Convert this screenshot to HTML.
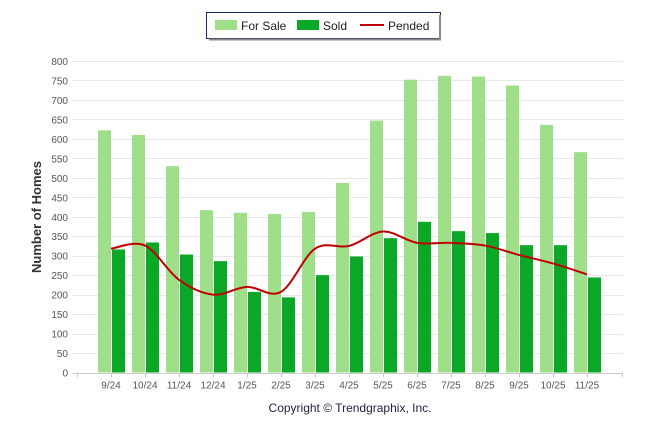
<!DOCTYPE html>
<html><head><meta charset="utf-8"><style>
body{margin:0;background:#fff;font-family:"Liberation Sans",sans-serif}
svg text{font-family:"Liberation Sans",sans-serif}
</style></head><body>
<svg id="chart" width="646" height="434">
<g>
<rect x="206.5" y="12.5" width="234" height="26" fill="#fff" stroke="#1a2a5a" stroke-width="1"/>
<line x1="440" y1="15" x2="440" y2="40" stroke="#888" stroke-width="2"/>
<line x1="209" y1="39.5" x2="441" y2="39.5" stroke="#888" stroke-width="2"/>
<g><rect x="215" y="20" width="22" height="10" fill="#a0df89"/><text x="241" y="30" font-size="12" fill="#222">For Sale</text></g>
<g><rect x="297" y="20" width="22" height="10" fill="#0aa826"/><text x="323" y="30" font-size="12" fill="#222">Sold</text></g>
<g><line x1="360" y1="25" x2="384" y2="25" stroke="#c00000" stroke-width="2"/><text x="388" y="30" font-size="12" fill="#222">Pended</text></g>
</g>
<g id="grid"></g><g id="bars"></g><g id="line"></g><g id="axes"></g>
<text x="41" y="217" font-size="13" font-weight="bold" fill="#333" text-anchor="middle" transform="rotate(-90 41 217)">Number of Homes</text>
<text x="350" y="412" font-size="12" fill="#224" text-anchor="middle">Copyright © Trendgraphix, Inc.</text>
</svg>
<script>
const categories=["9/24","10/24","11/24","12/24","1/25","2/25","3/25","4/25","5/25","6/25","7/25","8/25","9/25","10/25","11/25"];
const forSale=[622,610,530,417,410,407,412,487,647,752,762,760,737,636,566];
const sold=[316,334,303,286,207,193,250,298,345,387,363,358,327,327,244];
const pended=[318,326,238,200,220,207,318,325,362,333,333,326,302,280,252];
const yTicks=[0,50,100,150,200,250,300,350,400,450,500,550,600,650,700,750,800];
const NS="http://www.w3.org/2000/svg";
const y0=372.5,y1=61,ymax=800,left=72,right=623;
const yS=v=>y0-(y0-y1)*v/ymax;
const xS=i=>111+i*34;
function mk(tag,attrs,parent){const e=document.createElementNS(NS,tag);for(const k in attrs)e.setAttribute(k,attrs[k]);parent.appendChild(e);return e;}
const grid=document.getElementById('grid'),axes=document.getElementById('axes'),bars=document.getElementById('bars'),lineG=document.getElementById('line');
yTicks.forEach(t=>{
 const l=mk('line',{x1:left,x2:right,y1:Math.round(yS(t))+0.5,y2:Math.round(yS(t))+0.5,stroke:t===0?'#ccc':'#e8e8e8'},grid);
 
 
 const tx=mk('text',{x:68,y:yS(t)+4,'font-size':10,fill:'#555','text-anchor':'end'},axes);
 tx.textContent=t;
 
 
});
mk('line',{x1:77.5,x2:77.5,y1:y0,y2:y0+5,stroke:'#ccc'},axes);
categories.forEach((c,i)=>{
 const cx=xS(i);
 const b1=mk('rect',{x:cx-13,y:yS(forSale[i]),width:13,height:y0-yS(forSale[i]),fill:'#a0df89'},bars);
 
 
 const b2=mk('rect',{x:cx+1,y:yS(sold[i]),width:13,height:y0-yS(sold[i]),fill:'#0aa826'},bars);
 
 
 mk('line',{x1:cx+0.5,x2:cx+0.5,y1:y0,y2:y0+5,stroke:'#ccc'},axes);
 const t=mk('text',{x:cx,y:y0+16,'font-size':10,fill:'#555','text-anchor':'middle'},axes);
 t.textContent=c;
 
 
});
mk('line',{x1:right-0.5,x2:right-0.5,y1:y0,y2:y0+5,stroke:'#ccc'},axes);
const pts=pended.map((v,i)=>[xS(i),yS(v)]);
let d='M'+pts[0][0]+','+pts[0][1];
for(let i=0;i<pts.length-1;i++){
 const p0=pts[i-1]||pts[i],p1=pts[i],p2=pts[i+1],p3=pts[i+2]||p2;
 const c1=[p1[0]+(p2[0]-p0[0])/6,p1[1]+(p2[1]-p0[1])/6],c2=[p2[0]-(p3[0]-p1[0])/6,p2[1]-(p3[1]-p1[1])/6];
 d+=` C${c1[0]},${c1[1]} ${c2[0]},${c2[1]} ${p2[0]},${p2[1]}`;
}
const pl=mk('path',{d:d,fill:'none',stroke:'#c00000','stroke-width':2},lineG);


</script>
</body></html>
